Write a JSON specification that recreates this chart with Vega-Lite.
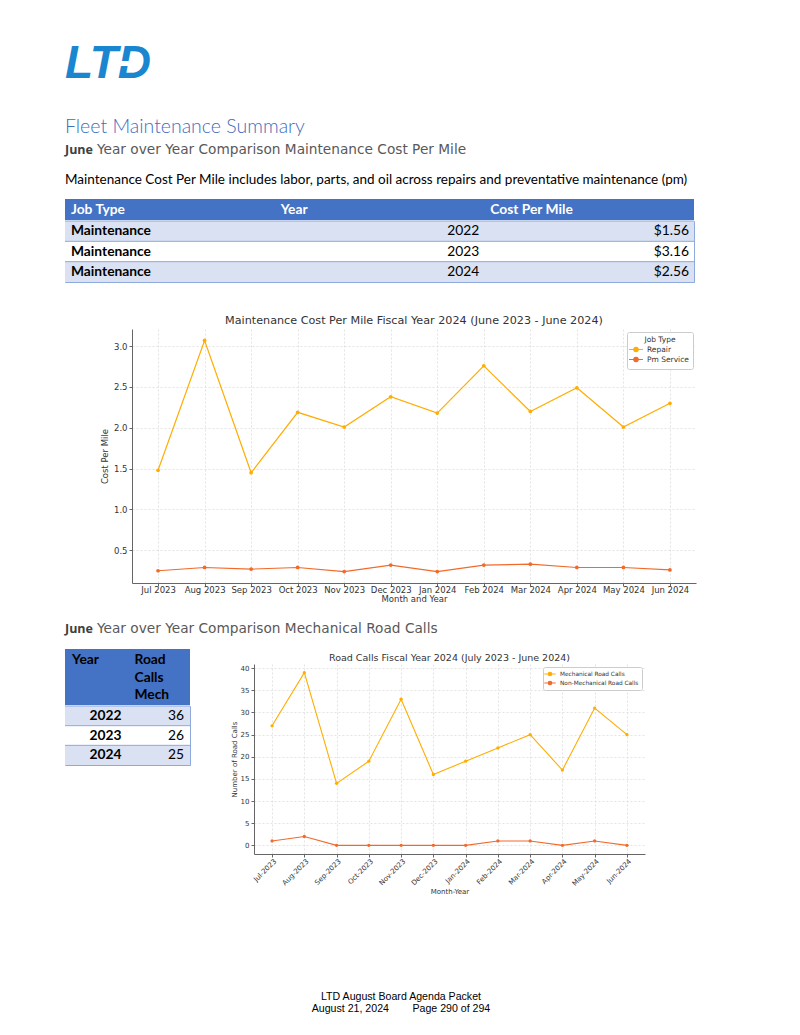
{
  "$schema": "https://vega.github.io/schema/vega-lite/v6.json",
  "background": "white",
  "padding": {"left": 64, "top": 37, "right": 10, "bottom": 10},
  "bounds": "full",
  "spacing": 0,
  "resolve": {"scale": {"color": "independent", "fill": "independent"}, "legend": {"color": "independent", "fill": "independent"}},
  "config": {
    "view": {"stroke": null},
    "font": "DejaVu Sans",
    "axis": {
      "labelFont": "DejaVu Sans", "titleFont": "DejaVu Sans",
      "labelColor": "#333333", "titleColor": "#333333", "titleFontWeight": "normal",
      "domainColor": "#666666", "tickColor": "#666666", "tickSize": 3,
      "gridColor": "#d9d9d9", "gridDash": [2, 2], "gridWidth": 0.7
    }
  },
  "datasets": {
    "costHeader": [{"col": "Job Type"}, {"col": "Year"}, {"col": "Cost Per Mile"}],
    "costTable": [
      {"Job Type": "Maintenance", "Year": "2022", "Cost Per Mile": "$1.56"},
      {"Job Type": "Maintenance", "Year": "2023", "Cost Per Mile": "$3.16"},
      {"Job Type": "Maintenance", "Year": "2024", "Cost Per Mile": "$2.56"}
    ],
    "roadHeader": [{"col": "Year", "label": "Year"}, {"col": "Road Calls Mech", "label": "Road\nCalls\nMech"}],
    "roadTable": [
      {"Year": "2022", "Road Calls Mech": "36"},
      {"Year": "2023", "Road Calls Mech": "26"},
      {"Year": "2024", "Road Calls Mech": "25"}
    ],
    "cpm": [
      {"month": "Jul 2023", "jobType": "Repair", "cost": 1.48},
      {"month": "Aug 2023", "jobType": "Repair", "cost": 3.07},
      {"month": "Sep 2023", "jobType": "Repair", "cost": 1.45},
      {"month": "Oct 2023", "jobType": "Repair", "cost": 2.19},
      {"month": "Nov 2023", "jobType": "Repair", "cost": 2.01},
      {"month": "Dec 2023", "jobType": "Repair", "cost": 2.38},
      {"month": "Jan 2024", "jobType": "Repair", "cost": 2.18},
      {"month": "Feb 2024", "jobType": "Repair", "cost": 2.76},
      {"month": "Mar 2024", "jobType": "Repair", "cost": 2.20},
      {"month": "Apr 2024", "jobType": "Repair", "cost": 2.49},
      {"month": "May 2024", "jobType": "Repair", "cost": 2.01},
      {"month": "Jun 2024", "jobType": "Repair", "cost": 2.30},
      {"month": "Jul 2023", "jobType": "Pm Service", "cost": 0.25},
      {"month": "Aug 2023", "jobType": "Pm Service", "cost": 0.29},
      {"month": "Sep 2023", "jobType": "Pm Service", "cost": 0.27},
      {"month": "Oct 2023", "jobType": "Pm Service", "cost": 0.29},
      {"month": "Nov 2023", "jobType": "Pm Service", "cost": 0.24},
      {"month": "Dec 2023", "jobType": "Pm Service", "cost": 0.32},
      {"month": "Jan 2024", "jobType": "Pm Service", "cost": 0.24},
      {"month": "Feb 2024", "jobType": "Pm Service", "cost": 0.32},
      {"month": "Mar 2024", "jobType": "Pm Service", "cost": 0.33},
      {"month": "Apr 2024", "jobType": "Pm Service", "cost": 0.29},
      {"month": "May 2024", "jobType": "Pm Service", "cost": 0.29},
      {"month": "Jun 2024", "jobType": "Pm Service", "cost": 0.26}
    ],
    "roadCalls": [
      {"month": "Jul-2023", "type": "Mechanical Road Calls", "calls": 27},
      {"month": "Aug-2023", "type": "Mechanical Road Calls", "calls": 39},
      {"month": "Sep-2023", "type": "Mechanical Road Calls", "calls": 14},
      {"month": "Oct-2023", "type": "Mechanical Road Calls", "calls": 19},
      {"month": "Nov-2023", "type": "Mechanical Road Calls", "calls": 33},
      {"month": "Dec-2023", "type": "Mechanical Road Calls", "calls": 16},
      {"month": "Jan-2024", "type": "Mechanical Road Calls", "calls": 19},
      {"month": "Feb-2024", "type": "Mechanical Road Calls", "calls": 22},
      {"month": "Mar-2024", "type": "Mechanical Road Calls", "calls": 25},
      {"month": "Apr-2024", "type": "Mechanical Road Calls", "calls": 17},
      {"month": "May-2024", "type": "Mechanical Road Calls", "calls": 31},
      {"month": "Jun-2024", "type": "Mechanical Road Calls", "calls": 25},
      {"month": "Jul-2023", "type": "Non-Mechanical Road Calls", "calls": 1},
      {"month": "Aug-2023", "type": "Non-Mechanical Road Calls", "calls": 2},
      {"month": "Sep-2023", "type": "Non-Mechanical Road Calls", "calls": 0},
      {"month": "Oct-2023", "type": "Non-Mechanical Road Calls", "calls": 0},
      {"month": "Nov-2023", "type": "Non-Mechanical Road Calls", "calls": 0},
      {"month": "Dec-2023", "type": "Non-Mechanical Road Calls", "calls": 0},
      {"month": "Jan-2024", "type": "Non-Mechanical Road Calls", "calls": 0},
      {"month": "Feb-2024", "type": "Non-Mechanical Road Calls", "calls": 1},
      {"month": "Mar-2024", "type": "Non-Mechanical Road Calls", "calls": 1},
      {"month": "Apr-2024", "type": "Non-Mechanical Road Calls", "calls": 0},
      {"month": "May-2024", "type": "Non-Mechanical Road Calls", "calls": 1},
      {"month": "Jun-2024", "type": "Non-Mechanical Road Calls", "calls": 0}
    ]
  },
  "vconcat": [
    {
      "width": 630, "height": 51,
      "data": {"values": [{"logo": "LTD"}]},
      "encoding": {"x": {"datum": 0, "type": "quantitative", "scale": {"domain": [0, 1]}, "axis": null}},
      "layer": [
        {"mark": {"type": "text", "align": "left", "baseline": "middle", "font": "Liberation Sans", "fontSize": 46, "fontStyle": "italic", "fontWeight": "bold", "color": "#1A86D0", "dy": 1},
         "encoding": {"text": {"field": "logo"}}},
        {"mark": {"type": "point", "shape": "M-1,-0.22H0.3V-0.55L1,0L0.3,0.55V0.22H-1Z", "filled": true, "color": "white", "opacity": 1, "size": 484, "xOffset": 66, "yOffset": 1}}
      ]
    },
    {"width": 1, "height": 27, "data": {"values": [{}]}, "mark": {"type": "rect", "opacity": 0}},
    {
      "width": 630, "height": 24,
      "data": {"values": [{"t": "Fleet Maintenance Summary"}]},
      "mark": {"type": "text", "align": "left", "baseline": "middle", "font": "Lato", "fontSize": 19.5, "fontWeight": 300, "color": "#3F6DBC"},
      "encoding": {"text": {"field": "t"}, "x": {"datum": 0, "type": "quantitative", "scale": {"domain": [0, 1]}, "axis": null}}
    },
    {
      "width": 630, "height": 22,
      "data": {"values": [{"a": "June", "b": "Year over Year Comparison Maintenance Cost Per Mile"}]},
      "encoding": {"x": {"datum": 0, "type": "quantitative", "scale": {"domain": [0, 1]}, "axis": null}},
      "layer": [
        {"mark": {"type": "text", "align": "left", "baseline": "middle", "font": "Open Sans", "fontSize": 12.5, "fontWeight": "bold", "color": "#404040"}, "encoding": {"text": {"field": "a"}}},
        {"mark": {"type": "text", "align": "left", "baseline": "middle", "font": "DejaVu Sans", "fontSize": 13.7, "color": "#595959", "dx": 32}, "encoding": {"text": {"field": "b"}}}
      ]
    },
    {
      "width": 630, "height": 38,
      "data": {"values": [{"t": "Maintenance Cost Per Mile includes labor, parts, and oil across repairs and preventative maintenance (pm)"}]},
      "mark": {"type": "text", "align": "left", "baseline": "middle", "font": "Lato", "fontSize": 13.5, "color": "black"},
      "encoding": {"text": {"field": "t"}, "x": {"datum": 0, "type": "quantitative", "scale": {"domain": [0, 1]}, "axis": null}}
    },
    {
      "width": 629, "height": 21,
      "data": {"name": "costHeader"},
      "layer": [
        {"mark": {"type": "rect", "color": "#4472C4"}},
        {"mark": {"type": "text", "align": "left", "baseline": "middle", "font": "Lato", "fontSize": 13.8, "fontWeight": "bold", "color": "white", "dx": 6},
         "encoding": {"x": {"field": "col", "type": "nominal", "sort": null, "bandPosition": 0, "scale": {"type": "band", "domain": ["Job Type", "Year", "Cost Per Mile"], "paddingInner": 0, "paddingOuter": 0}, "axis": null}, "text": {"field": "col"}}}
      ]
    },
    {
      "width": 629, "height": 61,
      "view": {"stroke": "#8EA9DB", "strokeWidth": 1},
      "data": {"name": "costTable"},
      "transform": [{"fold": ["Job Type", "Year", "Cost Per Mile"], "as": ["col", "val"]}],
      "encoding": {"y": {"field": "Year", "type": "ordinal", "scale": {"type": "band", "paddingInner": 0, "paddingOuter": 0}, "axis": null}},
      "layer": [
        {"transform": [{"filter": "datum.col === 'Year'"}],
         "mark": "rect",
         "encoding": {
           "fill": {"field": "Year", "type": "nominal", "scale": {"domain": ["2022", "2023", "2024"], "range": ["#D9E1F2", "#FFFFFF", "#D9E1F2"]}, "legend": null}}},
        {"transform": [{"filter": "datum.col === 'Year'"}],
         "mark": {"type": "rule", "color": "#8EA9DB", "strokeWidth": 1},
         "encoding": {"y": {"field": "Year", "type": "ordinal", "bandPosition": 0, "scale": {"type": "band", "paddingInner": 0, "paddingOuter": 0}, "axis": null}}},
        {"transform": [{"filter": "datum.col === 'Job Type'"}],
         "mark": {"type": "text", "align": "left", "baseline": "middle", "font": "Lato", "fontSize": 13.8, "fontWeight": "bold", "color": "black", "dx": 6},
         "encoding": {"x": {"field": "col", "type": "nominal", "bandPosition": 0, "scale": {"type": "band", "domain": ["Job Type", "Year", "Cost Per Mile"], "paddingInner": 0, "paddingOuter": 0}, "axis": null}, "text": {"field": "val"}}},
        {"transform": [{"filter": "datum.col !== 'Job Type'"}],
         "mark": {"type": "text", "align": "right", "baseline": "middle", "font": "Lato", "fontSize": 13.8, "color": "black", "dx": -5},
         "encoding": {"x": {"field": "col", "type": "nominal", "bandPosition": 1, "scale": {"type": "band", "domain": ["Job Type", "Year", "Cost Per Mile"], "paddingInner": 0, "paddingOuter": 0}, "axis": null}, "text": {"field": "val"}}}
      ]
    },
    {"width": 1, "height": 31, "data": {"values": [{}]}, "mark": {"type": "rect", "opacity": 0}},
    {
      "hconcat": [
        {"width": 67, "height": 254, "data": {"values": [{}]}, "mark": {"type": "rect", "opacity": 0}},
        {
          "width": 564, "height": 254,
          "data": {"name": "cpm"},
          "title": {"text": "Maintenance Cost Per Mile Fiscal Year 2024 (June 2023 - June 2024)", "font": "DejaVu Sans", "fontSize": 11.2, "fontWeight": "normal", "color": "#333333", "offset": 3},
          "mark": {"type": "line", "strokeWidth": 1.2, "point": {"filled": true, "size": 14}},
          "encoding": {
            "x": {"field": "month", "type": "ordinal", "sort": null, "scale": {"type": "point", "padding": 0.56},
                  "axis": {"title": "Month and Year", "labelAngle": 0, "labelFontSize": 8.5, "titleFontSize": 8.5, "grid": true, "labelPadding": -0.5, "titlePadding": 0}},
            "y": {"field": "cost", "type": "quantitative", "scale": {"domain": [0.1, 3.21], "nice": false, "zero": false},
                  "axis": {"title": "Cost Per Mile", "values": [0.5, 1, 1.5, 2, 2.5, 3], "format": ".1f", "labelFontSize": 8.5, "titleFontSize": 8.5, "grid": true, "labelPadding": 2, "titlePadding": 4}},
            "color": {"field": "jobType", "type": "nominal", "scale": {"domain": ["Repair", "Pm Service"], "range": ["#FFAD00", "#F26A2A"]},
                      "legend": {"title": "Job Type", "orient": "top-right", "offset": 3, "fillColor": "white", "strokeColor": "#cccccc", "padding": 4, "cornerRadius": 2,
                                 "titleFont": "DejaVu Sans", "labelFont": "DejaVu Sans", "titleFontSize": 7.5, "titleFontWeight": "normal", "titleAnchor": "middle", "labelFontSize": 7.5,
                                 "titleColor": "#333333", "labelColor": "#333333", "rowPadding": 0, "titlePadding": 1, "labelOffset": 6,
                                 "symbolType": "M-1.75,0H1.75M-0.55,0A0.55,0.55,0,1,0,0.55,0A0.55,0.55,0,1,0,-0.55,0Z", "symbolSize": 64, "symbolStrokeWidth": 1.2,
                                 "encode": {"symbols": {"update": {"fill": {"scale": "color", "field": "value"}}}}}}
          }
        }
      ],
      "spacing": 0,
      "bounds": "flush",
      "resolve": {"scale": {"color": "independent"}, "legend": {"color": "independent"}}
    },
    {"width": 1, "height": 15, "data": {"values": [{}]}, "mark": {"type": "rect", "opacity": 0}},
    {
      "width": 630, "height": 22,
      "data": {"values": [{"a": "June", "b": "Year over Year Comparison Mechanical Road Calls"}]},
      "encoding": {"x": {"datum": 0, "type": "quantitative", "scale": {"domain": [0, 1]}, "axis": null}},
      "layer": [
        {"mark": {"type": "text", "align": "left", "baseline": "middle", "font": "Open Sans", "fontSize": 12.5, "fontWeight": "bold", "color": "#404040"}, "encoding": {"text": {"field": "a"}}},
        {"mark": {"type": "text", "align": "left", "baseline": "middle", "font": "DejaVu Sans", "fontSize": 13.7, "color": "#595959", "dx": 32}, "encoding": {"text": {"field": "b"}}}
      ]
    },
    {"width": 1, "height": 9, "data": {"values": [{}]}, "mark": {"type": "rect", "opacity": 0}},
    {
      "hconcat": [
        {
          "vconcat": [
            {
              "width": 125, "height": 56,
              "data": {"name": "roadHeader"},
              "layer": [
                {"mark": {"type": "rect", "color": "#4472C4"}},
                {"mark": {"type": "text", "align": "left", "baseline": "middle", "font": "Lato", "fontSize": 13.8, "fontWeight": "bold", "color": "black", "dx": 7, "dy": -17, "lineBreak": "\n", "lineHeight": 17.5},
                 "encoding": {"x": {"field": "col", "type": "nominal", "bandPosition": 0, "scale": {"type": "band", "domain": ["Year", "Road Calls Mech"], "paddingInner": 0, "paddingOuter": 0}, "axis": null}, "text": {"field": "label"}}}
              ]
            },
            {
              "width": 125, "height": 59,
              "view": {"stroke": "#8EA9DB", "strokeWidth": 1},
              "data": {"name": "roadTable"},
              "transform": [{"fold": ["Year", "Road Calls Mech"], "as": ["col", "val"]}],
              "encoding": {"y": {"field": "Year", "type": "ordinal", "scale": {"type": "band", "paddingInner": 0, "paddingOuter": 0}, "axis": null}},
              "layer": [
                {"transform": [{"filter": "datum.col === 'Year'"}],
                 "mark": "rect",
                 "encoding": {
                   "fill": {"field": "Year", "type": "nominal", "scale": {"domain": ["2022", "2023", "2024"], "range": ["#D9E1F2", "#FFFFFF", "#D9E1F2"]}, "legend": null}}},
                {"transform": [{"filter": "datum.col === 'Year'"}],
                 "mark": {"type": "rule", "color": "#8EA9DB", "strokeWidth": 1},
                 "encoding": {"y": {"field": "Year", "type": "ordinal", "bandPosition": 0, "scale": {"type": "band", "paddingInner": 0, "paddingOuter": 0}, "axis": null}}},
                {"transform": [{"filter": "datum.col === 'Year'"}],
                 "mark": {"type": "text", "align": "right", "baseline": "middle", "font": "Lato", "fontSize": 13.8, "fontWeight": "bold", "color": "black", "dx": -6},
                 "encoding": {"x": {"field": "col", "type": "nominal", "bandPosition": 1, "scale": {"type": "band", "domain": ["Year", "Road Calls Mech"], "paddingInner": 0, "paddingOuter": 0}, "axis": null}, "text": {"field": "val"}}},
                {"transform": [{"filter": "datum.col !== 'Year'"}],
                 "mark": {"type": "text", "align": "right", "baseline": "middle", "font": "Lato", "fontSize": 13.8, "color": "black", "dx": -6},
                 "encoding": {"x": {"field": "col", "type": "nominal", "bandPosition": 1, "scale": {"type": "band", "domain": ["Year", "Road Calls Mech"], "paddingInner": 0, "paddingOuter": 0}, "axis": null}, "text": {"field": "val"}}}
              ]
            }
          ],
          "spacing": 0,
          "bounds": "full",
          "resolve": {"scale": {"fill": "independent"}}
        },
        {"width": 39, "height": 10, "data": {"values": [{}]}, "mark": {"type": "rect", "opacity": 0}},
        {
          "vconcat": [
            {"width": 1, "height": 2.5, "data": {"values": [{}]}, "mark": {"type": "rect", "opacity": 0}},
            {
              "width": 391, "height": 190,
              "data": {"name": "roadCalls"},
              "title": {"text": "Road Calls Fiscal Year 2024 (July 2023 - June 2024)", "font": "DejaVu Sans", "fontSize": 9.5, "fontWeight": "normal", "color": "#333333", "offset": 2},
              "mark": {"type": "line", "strokeWidth": 1.1, "point": {"filled": true, "size": 11}},
              "encoding": {
                "x": {"field": "month", "type": "ordinal", "sort": null, "scale": {"type": "point", "padding": 0.56},
                      "axis": {"title": "Month-Year", "labelAngle": -45, "labelFontSize": 7, "titleFontSize": 7, "grid": true, "labelPadding": 0, "titlePadding": 1}},
                "y": {"field": "calls", "type": "quantitative", "scale": {"domain": [-1.95, 40.95], "nice": false, "zero": false},
                      "axis": {"title": "Number of Road Calls", "values": [0, 5, 10, 15, 20, 25, 30, 35, 40], "labelFontSize": 7, "titleFontSize": 7, "grid": true, "labelPadding": 2, "titlePadding": 3}},
                "color": {"field": "type", "type": "nominal", "scale": {"domain": ["Mechanical Road Calls", "Non-Mechanical Road Calls"], "range": ["#FFAD00", "#F26A2A"]},
                          "legend": {"title": null, "orient": "top-right", "offset": 3, "fillColor": "white", "strokeColor": "#cccccc", "padding": 3, "cornerRadius": 2,
                                     "labelFont": "DejaVu Sans", "labelFontSize": 5.8, "labelColor": "#333333", "rowPadding": 1, "labelOffset": 6,
                                     "symbolType": "M-1.9,0H1.9M-0.6,0A0.6,0.6,0,1,0,0.6,0A0.6,0.6,0,1,0,-0.6,0Z", "symbolSize": 36, "symbolStrokeWidth": 1.1,
                                     "encode": {"symbols": {"update": {"fill": {"scale": "color", "field": "value"}}}}}}
              }
            }
          ],
          "spacing": 0,
          "bounds": "full",
          "resolve": {"scale": {"color": "independent"}, "legend": {"color": "independent"}}
        }
      ],
      "spacing": 0,
      "bounds": "full",
      "resolve": {"scale": {"color": "independent", "fill": "independent"}, "legend": {"color": "independent"}}
    },
    {"width": 1, "height": 94, "data": {"values": [{}]}, "mark": {"type": "rect", "opacity": 0}},
    {
      "width": 672, "height": 28,
      "data": {"values": [{"t": "LTD August Board Agenda Packet\nAugust 21, 2024\u00a0\u00a0\u00a0\u00a0\u00a0\u00a0\u00a0\u00a0Page 290 of 294"}]},
      "mark": {"type": "text", "align": "center", "baseline": "middle", "lineBreak": "\n", "lineHeight": 12, "font": "Liberation Sans", "fontSize": 10.6, "color": "black", "dy": -6},
      "encoding": {"text": {"field": "t"}}
    }
  ]
}
